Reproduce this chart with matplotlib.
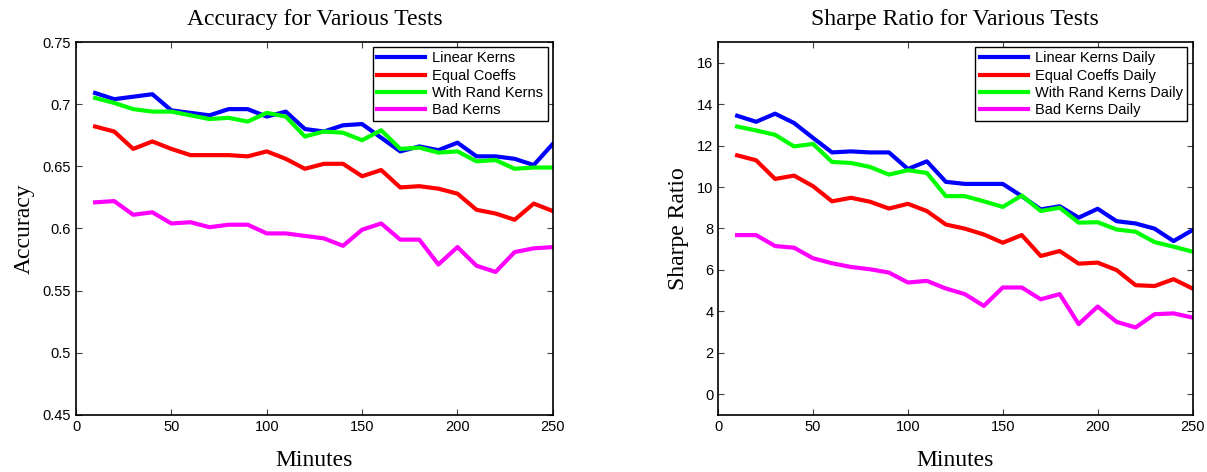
import numpy as np
import matplotlib.pyplot as plt

# sample times (minutes)
minutes = np.arange(10, 251, 10)

# accuracy per test
acc_linear = [0.709, 0.704, 0.706, 0.708, 0.695, 0.693, 0.691, 0.696, 0.696, 0.690,
              0.694, 0.680, 0.678, 0.683, 0.684, 0.673, 0.662, 0.666, 0.663, 0.669,
              0.658, 0.658, 0.656, 0.651, 0.668]
acc_equal = [0.682, 0.678, 0.664, 0.670, 0.664, 0.659, 0.659, 0.659, 0.658, 0.662,
             0.656, 0.648, 0.652, 0.652, 0.642, 0.647, 0.633, 0.634, 0.632, 0.628,
             0.615, 0.612, 0.607, 0.620, 0.614]
acc_rand = [0.705, 0.701, 0.696, 0.694, 0.694, 0.691, 0.688, 0.689, 0.686, 0.693,
            0.690, 0.674, 0.678, 0.677, 0.671, 0.679, 0.664, 0.665, 0.661, 0.662,
            0.654, 0.655, 0.648, 0.649, 0.649]
acc_bad = [0.621, 0.622, 0.611, 0.613, 0.604, 0.605, 0.601, 0.603, 0.603, 0.596,
           0.596, 0.594, 0.592, 0.586, 0.599, 0.604, 0.591, 0.591, 0.571, 0.585,
           0.570, 0.565, 0.581, 0.584, 0.585]

# daily sharpe ratio per test
sr_linear = [13.44, 13.15, 13.54, 13.09, 12.37, 11.67, 11.72, 11.67, 11.67, 10.87,
             11.24, 10.25, 10.15, 10.15, 10.15, 9.56, 8.92, 9.07, 8.52, 8.95,
             8.35, 8.24, 7.99, 7.39, 7.92]
sr_equal = [11.53, 11.29, 10.39, 10.55, 10.04, 9.31, 9.48, 9.29, 8.96, 9.19,
            8.84, 8.19, 7.99, 7.71, 7.31, 7.68, 6.67, 6.91, 6.30, 6.35,
            5.99, 5.26, 5.22, 5.55, 5.10]
sr_rand = [12.92, 12.73, 12.52, 11.96, 12.08, 11.21, 11.16, 10.97, 10.60, 10.81,
           10.68, 9.56, 9.56, 9.31, 9.04, 9.59, 8.84, 9.00, 8.28, 8.30,
           7.95, 7.84, 7.34, 7.12, 6.88]
sr_bad = [7.68, 7.68, 7.15, 7.07, 6.56, 6.32, 6.14, 6.03, 5.87, 5.39,
          5.47, 5.10, 4.83, 4.26, 5.15, 5.15, 4.58, 4.83, 3.38, 4.23,
          3.49, 3.22, 3.86, 3.90, 3.70]

colors = ['#0000ff', '#ff0000', '#00ff00', '#ff00ff']
acc_names = ['Linear Kerns', 'Equal Coeffs', 'With Rand Kerns', 'Bad Kerns']
sr_names = [n + ' Daily' for n in acc_names]

plt.rcParams['font.family'] = 'Liberation Sans'
serif = 'Liberation Serif'

fig = plt.figure(figsize=(12.07, 4.72), dpi=100)
ax1 = fig.add_axes([0.063, 0.121, 0.395, 0.790])
ax2 = fig.add_axes([0.595, 0.121, 0.393, 0.790])


def style(ax, title, ylabel):
    ax.set_title(title, fontfamily=serif, fontsize=17, pad=12)
    ax.set_xlabel('Minutes', fontfamily=serif, fontsize=17, labelpad=12)
    ax.set_ylabel(ylabel, fontfamily=serif, fontsize=17, labelpad=6)
    ax.set_xlim(0, 250)
    ax.set_xticks([0, 50, 100, 150, 200, 250])
    ax.tick_params(direction='in', top=True, right=True, length=4,
                   width=0.8, labelsize=10.5, color='#444444')
    for s in ax.spines.values():
        s.set_linewidth(1.2)
    leg = ax.legend(loc='upper right', fontsize=10.5, handlelength=3.3,
                    borderaxespad=0.35, fancybox=False, framealpha=1,
                    labelspacing=0.22, borderpad=0.3, handletextpad=0.5)
    leg.get_frame().set_edgecolor('black')
    leg.get_frame().set_linewidth(1.0)


for vals, c, n in zip([acc_linear, acc_equal, acc_rand, acc_bad], colors, acc_names):
    ax1.plot(minutes, vals, color=c, lw=3, label=n)
ax1.set_ylim(0.45, 0.75)
ax1.set_yticks(np.arange(0.45, 0.751, 0.05))
ax1.set_yticklabels(['0.45', '0.5', '0.55', '0.6', '0.65', '0.7', '0.75'])
style(ax1, 'Accuracy for Various Tests', 'Accuracy')

for vals, c, n in zip([sr_linear, sr_equal, sr_rand, sr_bad], colors, sr_names):
    ax2.plot(minutes, vals, color=c, lw=3, label=n)
ax2.set_ylim(-1, 17)
ax2.set_yticks(range(0, 17, 2))
style(ax2, 'Sharpe Ratio for Various Tests', 'Sharpe Ratio')

fig.savefig('out.png', dpi=100)
